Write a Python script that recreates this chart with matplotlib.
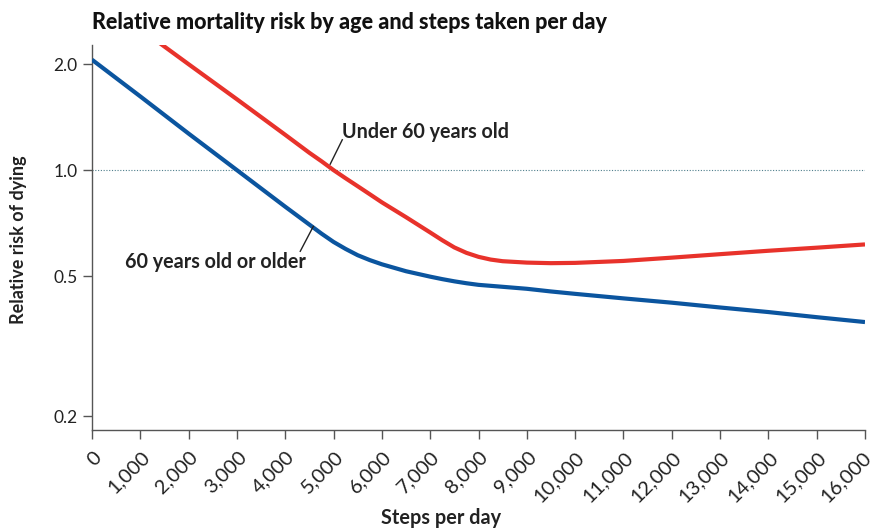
import numpy as np
import matplotlib.pyplot as plt
import matplotlib.transforms as mtransforms
from matplotlib.ticker import FixedLocator, NullLocator

plt.rcParams['font.family'] = ['Lato', 'DejaVu Sans']

# steps per day
steps = [0, 1000, 2000, 3000, 4000, 4500, 4750, 5000, 5250, 5500, 5750, 6000,
         6500, 7000, 7250, 7500, 7750, 8000, 8250, 8500, 9000, 9500, 10000,
         11000, 12000, 13000, 14000, 15000, 16000]

# 60 years old or older
older = [2.06, 1.62, 1.27, 1.0, 0.787, 0.70, 0.66, 0.625, 0.597, 0.573, 0.555, 0.54,
         0.516, 0.498, 0.49, 0.483, 0.477, 0.472, 0.469, 0.466, 0.46, 0.452, 0.445,
         0.432, 0.42, 0.407, 0.395, 0.382, 0.37]

# under 60 years old
under = [3.2, 2.52, 2.0, 1.59, 1.26, 1.12, 1.06, 1.0, 0.948, 0.9, 0.854, 0.81,
         0.735, 0.665, 0.632, 0.603, 0.582, 0.567, 0.557, 0.551, 0.546, 0.544, 0.545,
         0.552, 0.564, 0.577, 0.59, 0.602, 0.615]

yticks = [0.2, 0.5, 1.0, 2.0]
xticks = list(range(0, 16001, 1000))

red = '#e8322b'
blue = '#0b559f'
grey = '#555555'
ink = '#222222'

fig = plt.figure(figsize=(8.74, 5.29), dpi=100)
ax = fig.add_axes([0.1053, 0.1871, 0.8844, 0.728])

ax.plot(steps, under, color=red, lw=3.0, solid_capstyle='butt', zorder=3)
ax.plot(steps, older, color=blue, lw=3.0, solid_capstyle='butt', zorder=3)
ax.axhline(1.0, color='#4f7f8c', lw=0.8, ls=(0, (1, 1.5)), zorder=1)

ax.set_yscale('log')
ax.set_ylim(0.1825, 2.27)
ax.set_xlim(0, 16000)
ax.yaxis.set_major_locator(FixedLocator(yticks))
ax.yaxis.set_minor_locator(NullLocator())
ax.set_yticklabels([f'{v:.1f}' for v in yticks])
ax.set_xticks(xticks)
ax.set_xticklabels([f'{v:,}' for v in xticks], rotation=45, ha='right',
                   va='center', rotation_mode='anchor')

for s in ['top', 'right']:
    ax.spines[s].set_visible(False)
for s in ['left', 'bottom']:
    ax.spines[s].set_color(grey)
    ax.spines[s].set_linewidth(1.0)
ax.tick_params(axis='both', length=6.5, width=1.0, color=grey, labelcolor=ink)
ax.tick_params(axis='y', labelsize=12.5, pad=4)
ax.tick_params(axis='x', labelsize=14.5, pad=11)

# nudge rotated labels right so their ends sit just past the ticks
labels = ax.get_xticklabels()
for i, lab in enumerate(labels):
    dx = 0.065 if i < len(labels) - 1 else 0.03
    shift = mtransforms.ScaledTranslation(dx, 0, fig.dpi_scale_trans)
    lab.set_transform(lab.get_transform() + shift)

fig.text(441 / 874, 1 - 518 / 529, 'Steps per day', fontsize=14.3,
         fontweight='bold', color=ink, ha='center', va='center')
fig.text(19 / 874, 1 - 240 / 529, 'Relative risk of dying', fontsize=13,
         fontweight='bold', color=ink, ha='center', va='center', rotation=90)

# annotations
ax.plot([4930, 5180], [1.04, 1.22], color=ink, lw=1.0, zorder=4)
ax.text(5180, 1.28, 'Under 60 years old', fontsize=14.2, fontweight='bold',
        color=ink, ha='left', va='center')
ax.plot([4310, 4580], [0.588, 0.692], color=ink, lw=1.0, zorder=4)
ax.text(680, 0.547, '60 years old or older', fontsize=14.2, fontweight='bold',
        color=ink, ha='left', va='center')

fig.text(0.1053, 0.945, 'Relative mortality risk by age and steps taken per day',
         fontsize=15.5, fontweight='black', color='#111111', ha='left',
         va='baseline')

fig.savefig('out.png', dpi=100)
